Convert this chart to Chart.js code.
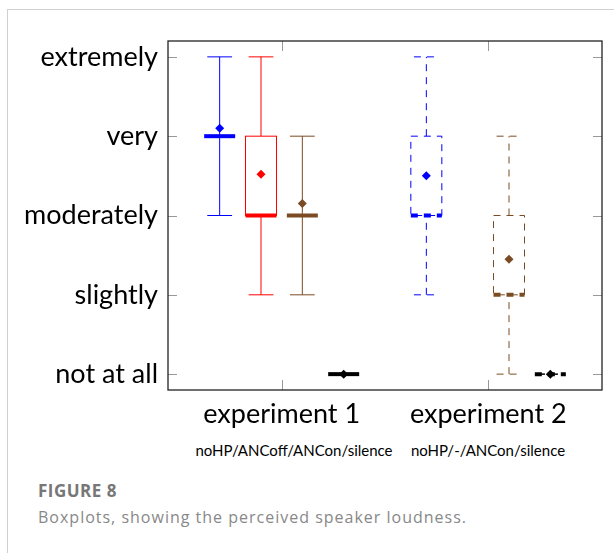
<!DOCTYPE html>
<html>
<head>
<meta charset="utf-8">
<script src="https://cdn.jsdelivr.net/npm/chart.js@4"></script>
<style>
  body { margin: 0; background: #fff; width: 614px; height: 553px; position: relative; overflow: hidden; }
  #frame { position: absolute; left: 7px; top: 9px; width: 607px; height: 544px; border-top: 1px solid #d0d0d0; border-left: 1px solid #d0d0d0; }
  #chart { position: absolute; left: 0; top: 0; }
  .sub { position: absolute; top: 441px; font: 15px Lato, sans-serif; color: #000; transform: translateX(-50%); white-space: nowrap; }
  #fig { position: absolute; left: 38px; top: 482px; font: bold 17px/17px "Open Sans", sans-serif; letter-spacing: 0.5px; color: #777; }
  #cap { position: absolute; left: 38px; top: 509px; font: 16px/16px "Open Sans", sans-serif; letter-spacing: 1px; color: #888; }
</style>
</head>
<body>
<div id="frame"></div>
<canvas id="chart" width="614" height="440"></canvas>
<div class="sub" style="left:294px">noHP/ANCoff/ANCon/silence</div>
<div class="sub" style="left:488px">noHP/-/ANCon/silence</div>
<div id="fig">FIGURE 8</div>
<div id="cap">Boxplots, showing the perceived speaker loudness.</div>
<script>
const levels = ['not at all', 'slightly', 'moderately', 'very', 'extremely'];
const experiments = ['experiment 1', 'experiment 2'];
const conditions = ['noHP', 'ANCoff', 'ANCon', 'silence'];
const colors = ['#0000ff', '#ff0000', '#7b4b23', '#000000'];

// box order: exp1 noHP, ANCoff, ANCon, silence, exp2 noHP, -, ANCon, silence
const mins    = [3, 2, 2, 1,   2, null, 1, 1];
const q1s     = [4, 3, 3, 1,   3, null, 2, 1];
const medians = [4, 3, 3, 1,   3, null, 2, 1];
const q3s     = [4, 4, 3, 1,   4, null, 3, 1];
const maxs    = [5, 5, 4, 1,   5, null, 4, 1];
const means   = [4.1, 3.52, 3.15, 1,   3.5, null, 2.45, 1];

const slot = i => Math.floor(i / 4) + 1 + ((i % 4) - 1.5) * 0.2;

const boxPlugin = {
  id: 'boxes',
  beforeDatasetsDraw(chart) {
    const { ctx, chartArea: { top, bottom, left, right }, scales: { x, y } } = chart;
    const hb = x.getPixelForValue(0.075) - x.getPixelForValue(0);
    const hc = x.getPixelForValue(0.06) - x.getPixelForValue(0);
    ctx.save();
    mins.forEach((mn, i) => {
      if (mn === null) return;
      const cx = x.getPixelForValue(slot(i));
      const c = colors[i % 4];
      ctx.strokeStyle = c;
      ctx.setLineDash(i >= 4 ? [7, 6] : []);
      ctx.lineWidth = 1;
      const line = (x1, y1, x2, y2) => { ctx.beginPath(); ctx.moveTo(x1, y1); ctx.lineTo(x2, y2); ctx.stroke(); };
      // whiskers
      if (q1s[i] > mn) line(cx, y.getPixelForValue(mn), cx, y.getPixelForValue(q1s[i]));
      if (maxs[i] > q3s[i]) line(cx, y.getPixelForValue(q3s[i]), cx, y.getPixelForValue(maxs[i]));
      line(cx - hc, y.getPixelForValue(mn), cx + hc, y.getPixelForValue(mn));
      line(cx - hc, y.getPixelForValue(maxs[i]), cx + hc, y.getPixelForValue(maxs[i]));
      // box
      if (q3s[i] > q1s[i]) {
        ctx.strokeRect(cx - hb, y.getPixelForValue(q3s[i]), 2 * hb, y.getPixelForValue(q1s[i]) - y.getPixelForValue(q3s[i]));
      }
      // median
      ctx.lineWidth = 4;
      line(cx - hb, y.getPixelForValue(medians[i]), cx + hb, y.getPixelForValue(medians[i]));
    });
    ctx.restore();

    // frame and inner ticks
    ctx.save();
    ctx.strokeStyle = '#999';
    ctx.lineWidth = 1;
    y.ticks.forEach(t => {
      const py = Math.round(y.getPixelForValue(t.value)) + 0.5;
      ctx.beginPath();
      ctx.moveTo(left, py); ctx.lineTo(left + 9, py);
      ctx.moveTo(right, py); ctx.lineTo(right - 9, py);
      ctx.stroke();
    });
    x.ticks.forEach(t => {
      const px = Math.round(x.getPixelForValue(t.value)) + 0.5;
      ctx.beginPath();
      ctx.moveTo(px, top); ctx.lineTo(px, top + 10);
      ctx.moveTo(px, bottom); ctx.lineTo(px, bottom - 10);
      ctx.stroke();
    });
    ctx.strokeStyle = '#222';
    ctx.lineWidth = 1.3;
    ctx.strokeRect(left, top, right - left, bottom - top);
    ctx.restore();
  }
};

const meanPoints = means.map((m, i) => m === null ? null : { x: slot(i), y: m }).filter(p => p);
const meanColors = means.map((m, i) => m === null ? null : colors[i % 4]).filter(c => c);

const config = {
  type: 'scatter',
  data: {
    datasets: [{
      label: 'mean',
      data: meanPoints,
      pointStyle: 'rectRot',
      pointRadius: 4.5,
      backgroundColor: meanColors,
      borderColor: meanColors,
      borderWidth: 0,
    }],
  },
  options: {
    responsive: false,
    animation: false,
    devicePixelRatio: 1,
    layout: { padding: { top: 41, right: 12, left: 0, bottom: 0 } },
    plugins: { legend: { display: false }, tooltip: { enabled: false } },
    scales: {
      x: {
        type: 'linear',
        min: 0.45,
        max: 2.55,
        grid: { display: false },
        border: { display: false },
        afterBuildTicks: s => { s.ticks = experiments.map((_, i) => ({ value: i + 1 })); },
        afterFit: s => { s.height = 50; },
        ticks: {
          padding: 0,
          color: '#000',
          font: { family: 'Lato', size: 27 },
          maxRotation: 0,
          callback: v => experiments[v - 1],
        },
      },
      y: {
        min: 0.8,
        max: 5.2,
        grid: { display: false },
        border: { display: false },
        afterBuildTicks: s => { s.ticks = levels.map((_, i) => ({ value: i + 1 })); },
        afterFit: s => { s.width = 168; },
        ticks: {
          padding: 2,
          color: '#000',
          font: { family: 'Lato', size: 27 },
          callback: v => levels[v - 1],
        },
      },
    },
  },
  plugins: [boxPlugin],
};

const myChart = new Chart(document.getElementById('chart'), config);
</script>
</body>
</html>
